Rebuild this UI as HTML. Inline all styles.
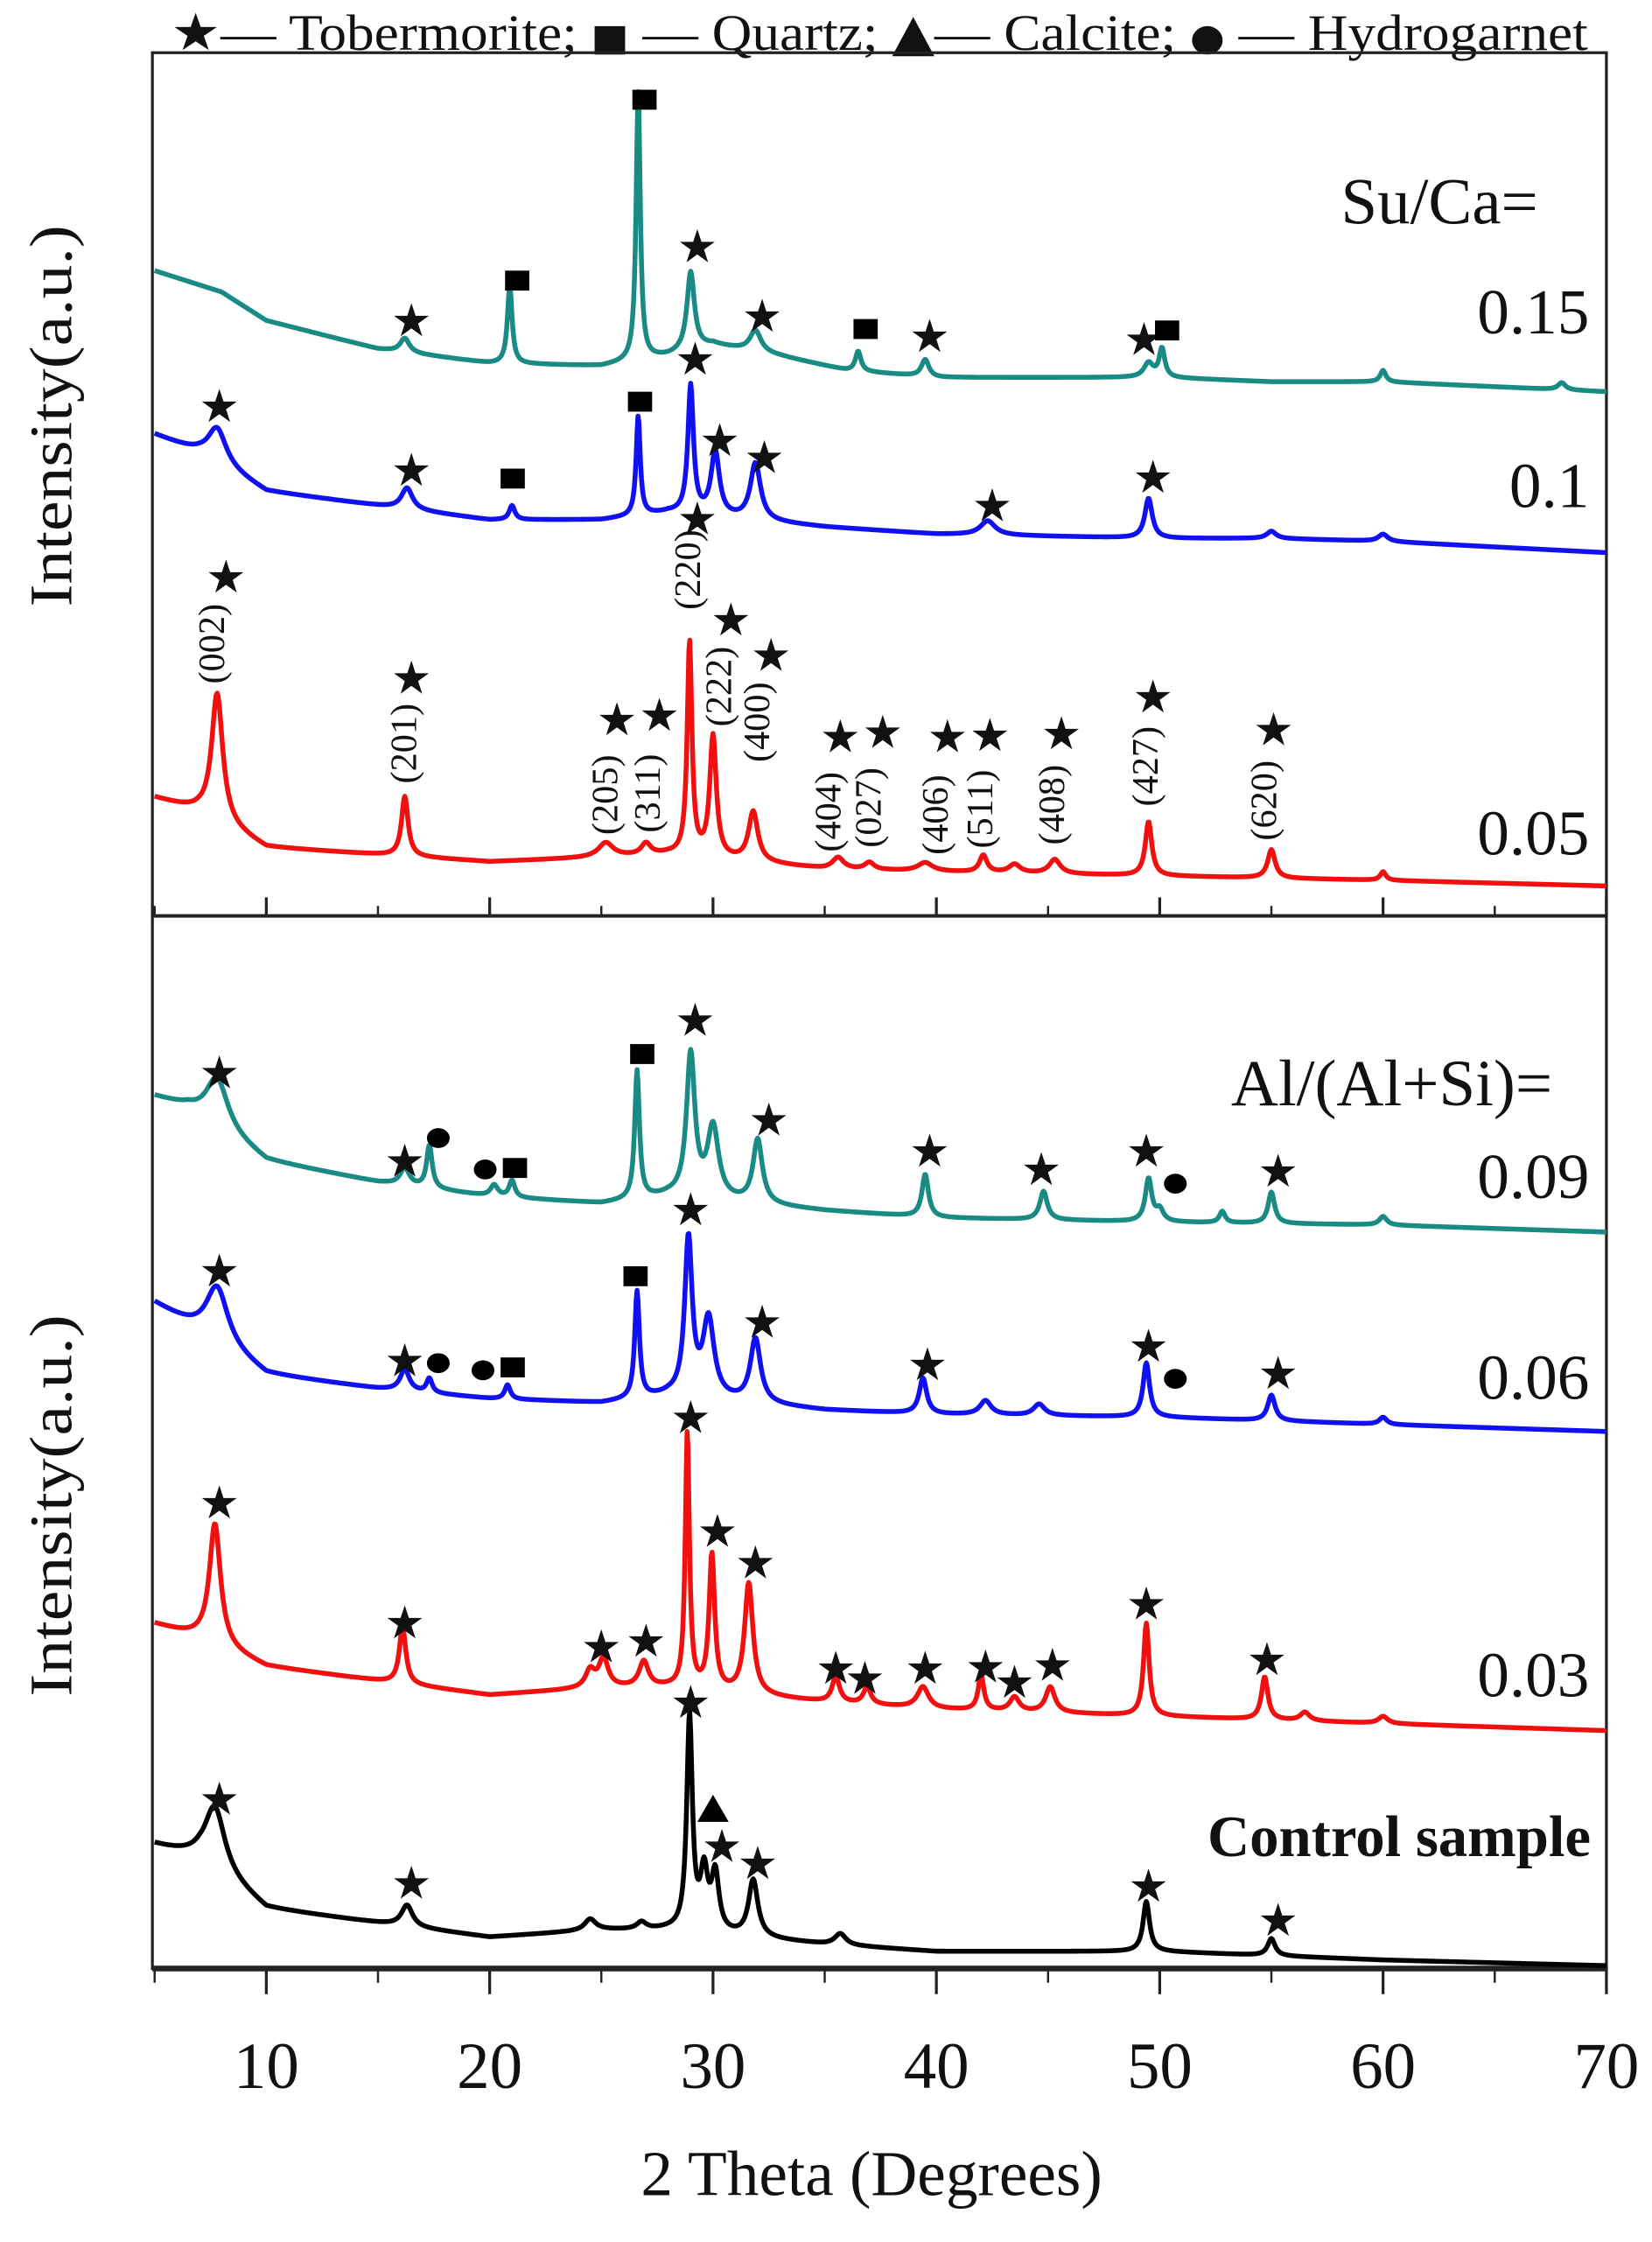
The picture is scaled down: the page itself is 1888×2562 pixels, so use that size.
<!DOCTYPE html>
<html><head><meta charset="utf-8"><style>
html,body{margin:0;padding:0;background:#fff;}
svg{display:block;}
text{font-family:"Liberation Serif","DejaVu Serif",serif;fill:#111;}
</style></head><body>
<svg id="chart" width="1888" height="2562" viewBox="0 0 1160 1574" preserveAspectRatio="none" xmlns="http://www.w3.org/2000/svg">
<g id="legend">
<text x="120" y="35" font-size="36" textLength="995" lengthAdjust="spacingAndGlyphs"><tspan font-family="DejaVu Sans">★</tspan>— Tobermorite; <tspan font-family="DejaVu Sans" font-size="26">■</tspan> — Quartz; <tspan font-family="DejaVu Sans">▲</tspan>— Calcite; <tspan font-family="DejaVu Sans" font-size="26">●</tspan> — Hydrogarnet</text>
</g>
<g id="frame">
<rect x="107" y="37" width="1021" height="1345" fill="none" stroke="#222" stroke-width="2"/>
<line x1="107" y1="643" x2="1128" y2="643" stroke="#222" stroke-width="2.5"/>
<line x1="107" y1="1382" x2="1128" y2="1382" stroke="#222" stroke-width="4"/>
</g>
<g id="ticks"></g>
<g id="series"></g>
<g id="marks"></g>
<text x="612" y="1541" font-size="45" text-anchor="middle">2 Theta (Degrees)</text>
<text transform="translate(50,292) rotate(-90)" font-size="42" text-anchor="middle" textLength="268" lengthAdjust="spacingAndGlyphs">Intensity(a.u.)</text>
<text transform="translate(50,1057) rotate(-90)" font-size="42" text-anchor="middle" textLength="268" lengthAdjust="spacingAndGlyphs">Intensity(a.u.)</text>
<text x="1080" y="157" font-size="46" text-anchor="end">Su/Ca=</text>
<text x="1116" y="234" font-size="45" text-anchor="end">0.15</text>
<text x="1116" y="356" font-size="45" text-anchor="end">0.1</text>
<text x="1116" y="600" font-size="45" text-anchor="end">0.05</text>
<text x="1090" y="776" font-size="46" text-anchor="end">Al/(Al+Si)=</text>
<text x="1116" y="841" font-size="45" text-anchor="end">0.09</text>
<text x="1116" y="982" font-size="45" text-anchor="end">0.06</text>
<text x="1116" y="1191" font-size="45" text-anchor="end">0.03</text>
<text x="1117" y="1303" font-size="41" font-weight="bold" text-anchor="end">Control sample</text>
</svg>
<script>
const xTicksMajor = [10,20,30,40,50,60,70];
const xTicksMinor = [5,15,25,35,45,55,65];
const xTickLabels = ["10","20","30","40","50","60","70"];

const seriesColors = ["#1a8a84","#1010f0","#f01010","#1a8a84","#1010f0","#f01010","#000000"];
const seriesNames = ["su-ca-0.15","su-ca-0.1","su-ca-0.05","al-0.09","al-0.06","al-0.03","control"];

const baseX0 = [5,8,10,15,20,25,28,30,33,36,40,45,50,55,60,70];
const baseY0 = [1192,1177,1157,1137,1127,1125,1132,1140,1132,1122,1117,1117,1117,1114,1114,1107];
const peaks0 = [[16.2,10,0.5],[20.9,55,0.25],[26.65,190,0.22],[29.0,55,0.4],[31.9,15,0.6],[36.5,14,0.3],[39.5,12,0.4],[49.5,10,0.5],[50.1,20,0.3],[60,8,0.3],[68,5,0.4]];

const baseX1 = [5,7,10,15,20,25,28,35,40,50,55,60,70];
const baseY1 = [1077,1064,1037,1027,1017,1017,1022,1012,1007,1004,1004,1002,994];
const peaks1 = [[7.8,25,1.0],[16.3,15,0.6],[21.0,10,0.3],[26.65,70,0.22],[29.0,90,0.3],[30.1,45,0.45],[31.9,40,0.55],[42.3,10,0.8],[49.5,28,0.4],[55,5,0.5],[60,5,0.5]];

const baseX2 = [5,7,10,15,20,25,28,35,40,50,60,70];
const baseY2 = [822,812,787,782,777,780,782,772,770,767,764,760];
const peaks2 = [[7.8,90,0.6],[16.2,42,0.35],[25.2,10,0.8],[27.0,8,0.5],[28.95,150,0.25],[30.0,85,0.35],[31.8,35,0.5],[35.6,8,0.6],[37.0,5,0.5],[39.5,6,0.8],[42.1,12,0.4],[43.5,6,0.6],[45.3,10,0.6],[49.5,38,0.35],[55.0,20,0.4],[60,6,0.3]];

const baseX3 = [5,6.5,10,15,20,25,28,35,40,50,60,70];
const baseY3 = [612,604,567,552,542,537,542,532,527,524,522,517];
const peaks3 = [[7.8,35,1.2],[16.2,12,0.5],[17.3,30,0.3],[20.2,8,0.4],[21.0,12,0.3],[26.6,90,0.25],[29.0,100,0.45],[30.0,50,0.6],[32.0,45,0.5],[39.5,30,0.35],[44.8,20,0.4],[49.5,30,0.35],[50.0,8,0.4],[52.8,8,0.3],[55.0,22,0.35],[60,6,0.4]];

const baseX4 = [5,10,15,20,25,28,35,40,50,60,70];
const baseY4 = [467,417,407,400,397,402,392,389,387,382,377];
const peaks4 = [[7.8,40,1.2],[16.2,15,0.5],[17.3,10,0.3],[20.8,10,0.3],[26.6,75,0.25],[28.9,110,0.4],[29.8,55,0.6],[31.9,45,0.55],[39.4,25,0.4],[42.2,10,0.6],[44.6,8,0.6],[49.4,38,0.35],[55.0,18,0.4],[60,5,0.4]];

const baseX5 = [5,7,10,15,20,25,28,35,40,50,60,70];
const baseY5 = [242,232,212,202,192,197,197,187,182,177,172,167];
const peaks5 = [[7.7,85,0.6],[16.1,40,0.35],[24.5,12,0.5],[25.1,20,0.5],[26.9,18,0.5],[28.85,180,0.22],[29.95,95,0.3],[31.6,78,0.45],[35.5,18,0.4],[36.9,12,0.4],[39.4,15,0.6],[42.0,25,0.3],[43.5,10,0.5],[45.1,18,0.5],[49.4,65,0.3],[54.7,30,0.35],[56.5,6,0.5],[60,5,0.5]];

const baseX6 = [5,7,10,15,20,25,28,35,40,50,60,70];
const baseY6 = [87,77,42,32,22,27,27,17,12,12,6,2];
const peaks6 = [[7.7,45,1.1],[16.3,15,0.6],[24.5,8,0.6],[26.8,5,0.5],[28.95,150,0.3],[29.6,40,0.4],[30.1,40,0.4],[31.8,40,0.5],[35.7,8,0.6],[49.4,35,0.35],[55.0,12,0.4]];

const markersTop = [
[16.5,1157,"s"],[21.2,1185,"q"],[26.9,1312,"q"],[29.3,1209,"s"],[32.2,1160,"s"],[36.8,1151,"q"],[39.7,1146,"s"],[49.3,1144,"s"],[50.3,1150,"q"],
[7.9,1097,"s"],[16.5,1052,"s"],[21.0,1046,"q"],[26.7,1100,"q"],[29.2,1130,"s"],[30.3,1073,"s"],[32.3,1061,"s"],[42.5,1027,"s"],[49.7,1047,"s"],
[8.2,977,"s"],[16.5,906,"s"],[25.7,877,"s"],[27.6,880,"s"],[29.3,1018,"s"],[30.8,947,"s"],[32.6,922,"s"],[35.7,865,"s"],[37.6,868,"s"],[40.5,865,"s"],[42.4,866,"s"],[45.6,867,"s"],[49.7,893,"s"],[55.1,870,"s"]];
const markersBottom = [
[7.9,629,"s"],[16.2,567,"s"],[17.7,583,"c"],[19.8,561,"c"],[21.1,562,"q"],[26.8,642,"q"],[29.2,666,"s"],[32.5,596,"s"],[39.7,574,"s"],[44.7,561,"s"],[49.4,574,"s"],[50.7,551,"c"],[55.3,560,"s"],
[7.9,490,"s"],[16.2,427,"s"],[17.7,425,"c"],[19.7,420,"c"],[21.0,422,"q"],[26.5,486,"q"],[29.0,533,"s"],[32.2,454,"s"],[39.6,424,"s"],[49.5,437,"s"],[50.7,414,"c"],[55.3,418,"s"],
[7.9,327,"s"],[16.2,243,"s"],[25.0,226,"s"],[27.0,230,"s"],[29.0,387,"s"],[30.2,307,"s"],[31.9,285,"s"],[35.5,211,"s"],[36.8,204,"s"],[39.5,211,"s"],[42.2,212,"s"],[43.5,201,"s"],[45.2,213,"s"],[49.4,256,"s"],[54.8,217,"s"],
[7.9,119,"s"],[16.5,60,"s"],[29.0,187,"s"],[30.0,112,"t"],[30.4,86,"s"],[32.0,74,"s"],[49.5,58,"s"],[55.3,34,"s"]];
const hklLabels = ["(002)","(201)","(205)","(311)","(220)","(222)","(400)","(404)","(027)","(406)","(511)","(408)","(427)","(620)"];
const hklX = [7.6,16.2,25.2,27.1,28.9,30.3,32.0,35.2,37.0,40.0,42.0,45.2,49.4,54.7];
const hklY = [930,860,824,825,982,900,875,812,815,810,814,817,844,820];

const NS = "http://www.w3.org/2000/svg";
function xs(v){ return 187 + (v - 10) * (941/60); }
function ys(v){ return 1382 - v; }
function interp(xa, ya, x){
  if (x <= xa[0]) return ya[0];
  for (let i=1;i<xa.length;i++){ if (x <= xa[i]) { const t=(x-xa[i-1])/(xa[i]-xa[i-1]); return ya[i-1]+t*(ya[i]-ya[i-1]); } }
  return ya[ya.length-1];
}
function curve(bx, by, pk, x){
  let v = interp(bx, by, x);
  for (const p of pk){ const d=(x-p[0])/(p[2]/2); v += p[1]/(1+d*d); }
  return v;
}
const allBX=[baseX0,baseX1,baseX2,baseX3,baseX4,baseX5,baseX6];
const allBY=[baseY0,baseY1,baseY2,baseY3,baseY4,baseY5,baseY6];
const allPk=[peaks0,peaks1,peaks2,peaks3,peaks4,peaks5,peaks6];
const sg=document.getElementById('series');
for (let s=0;s<7;s++){
  let d="";
  for (let x=5;x<=70.0001;x+=0.04){
    const y=curve(allBX[s],allBY[s],allPk[s],x);
    d += (d?"L":"M") + xs(x).toFixed(2) + "," + ys(y).toFixed(2);
  }
  const p=document.createElementNS(NS,'path');
  p.setAttribute('d',d); p.setAttribute('fill','none'); p.setAttribute('stroke',seriesColors[s]); p.setAttribute('stroke-width','3.4'); p.setAttribute('stroke-linejoin','round');
  
  
  sg.appendChild(p);
}
const tg=document.getElementById('ticks');
function line(x1,y1,x2,y2,w,name){
  const l=document.createElementNS(NS,'line');
  l.setAttribute('x1',x1);l.setAttribute('y1',y1);l.setAttribute('x2',x2);l.setAttribute('y2',y2);l.setAttribute('stroke','#222');l.setAttribute('stroke-width',w);
  
  
  tg.appendChild(l);
}
xTicksMajor.forEach((v,i)=>{
  line(xs(v),1382,xs(v),1400,2,'x-tick-major');
  line(xs(v),643,xs(v),630,2,'divider-tick-major');
  const t=document.createElementNS(NS,'text');
  t.setAttribute('x',xs(v)); t.setAttribute('y',1466); t.setAttribute('font-size','46'); t.setAttribute('text-anchor','middle');
  t.textContent=xTickLabels[i];
  
  
  tg.appendChild(t);
});
xTicksMinor.forEach(v=>{
  line(xs(v),1382,xs(v),1392,1.5,'x-tick-minor');
  line(xs(v),643,xs(v),636,1.5,'divider-tick-minor');
});
const mg=document.getElementById('marks');
function marker(m){
  const x=xs(m[0]), y=ys(m[1]);
  let el;
  if (m[2]==="s"){
    el=document.createElementNS(NS,'text');
    el.setAttribute('x',x); el.setAttribute('y',y+11); el.setAttribute('font-size','32'); el.setAttribute('text-anchor','middle'); el.setAttribute('font-family','DejaVu Sans');
    el.textContent="★";
    
  } else if (m[2]==="q"){
    el=document.createElementNS(NS,'rect');
    el.setAttribute('x',x-8); el.setAttribute('y',y-7); el.setAttribute('width',17); el.setAttribute('height',14); el.setAttribute('fill','#000');
    
  } else if (m[2]==="c"){
    el=document.createElementNS(NS,'ellipse');
    el.setAttribute('cx',x); el.setAttribute('cy',y); el.setAttribute('rx',8); el.setAttribute('ry',7); el.setAttribute('fill','#000');
    
  } else {
    el=document.createElementNS(NS,'polygon');
    el.setAttribute('points',(x-11)+","+(y+9)+" "+(x+11)+","+(y+9)+" "+x+","+(y-10)); el.setAttribute('fill','#000');
    
  }
  
  mg.appendChild(el);
}
markersTop.forEach(marker);
markersBottom.forEach(marker);
hklLabels.forEach((lab,i)=>{
  const t=document.createElementNS(NS,'text');
  t.setAttribute('transform','translate('+(xs(hklX[i])+8)+','+ys(hklY[i])+') rotate(-90)');
  t.setAttribute('font-size','26'); t.setAttribute('text-anchor','middle');
  t.textContent=lab;
  
  
  mg.appendChild(t);
});
</script>
</body></html>
